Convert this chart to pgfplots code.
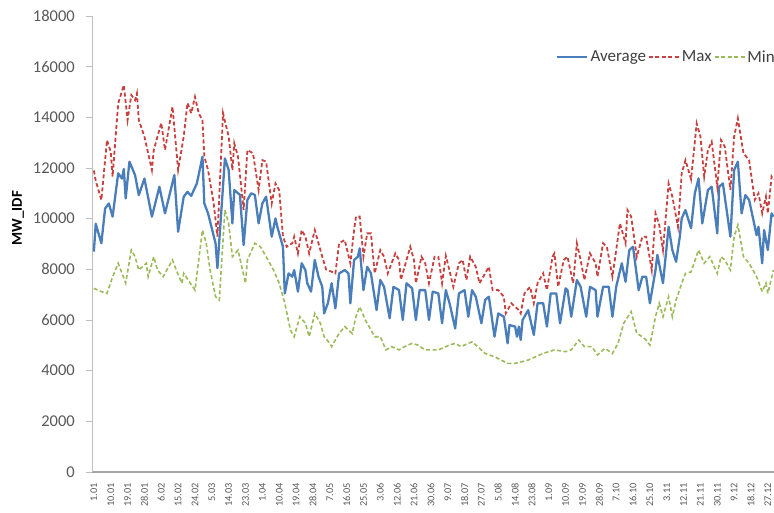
\documentclass[border=0pt]{standalone}
\usepackage{fontspec}
\setmainfont{Carlito}
\usepackage{pgfplots}
\pgfplotsset{compat=1.18}
\definecolor{avgblue}{HTML}{4A7EBB}
\definecolor{maxred}{HTML}{C8413F}
\definecolor{mingreen}{HTML}{9BBB59}
\definecolor{txt}{HTML}{595959}
\begin{document}
\begin{tikzpicture}
\begin{axis}[
  name=ax,
  scale only axis,
  width=682pt, height=456pt,
  xmin=-1, xmax=363.3,
  ymin=0, ymax=18000,
  axis lines*=left,
  x axis line style={draw=black!35, line width=1.6pt},
  y axis line style={draw=black!25, line width=0.6pt},
  tick align=outside,
  major tick length=6pt,
  xtick style={draw=none},
  ytick style={draw=black!25, line width=0.6pt},
  ytick={0,2000,...,18000},
  scaled y ticks=false,
  /pgf/number format/1000 sep={},
  /pgf/number format/assume math mode=true,
  yticklabel style={font=\fontsize{16.5}{18}\selectfont, color=txt, inner sep=0pt, anchor=east},
  yticklabel shift=11pt,
  xtick={0,9,...,360},
  xticklabels={1.01,10.01,19.01,28.01,6.02,15.02,24.02,5.03,14.03,23.03,1.04,10.04,19.04,28.04,7.05,16.05,25.05,3.06,12.06,21.06,30.06,9.07,18.07,27.07,5.08,14.08,23.08,1.09,10.09,19.09,28.09,7.10,16.10,25.10,3.11,12.11,21.11,30.11,9.12,18.12,27.12},
  xticklabel style={rotate=90, anchor=east, font=\fontsize{10.3}{12}\selectfont, color=txt, inner sep=0pt},
  xticklabel shift=5pt,
  ylabel={MW\_IDF},
  every axis y label/.style={at={(axis description cs:-0.1085,0.557)}, rotate=90, anchor=center, font=\fontsize{15}{17}\selectfont\bfseries, color=black},
  legend columns=3,
  legend style={at={(axis description cs:0.6804,0.910)}, anchor=west, draw=none, fill=none,
    inner xsep=0pt, inner ysep=0pt,
    nodes={inner xsep=2pt, inner ysep=0pt, text=black!75},
    font=\fontsize{17}{18}\selectfont},
  legend image code/.code={\draw[#1] (0pt,0pt) -- (30pt,0pt);},
]
\addplot[avgblue, line width=2.3pt, line join=round] coordinates {
(0,8700) (1,9800) (4,9030) (6,10400) (8,10600) (10,10080) (13,11790) (15,11580) (16,11960) (17,10800) (19,12250) (22,11720) (24,10930) (27,11580) (31,10080) (35,11260) (38,10210) (43,11720) (45,9485) (48,10870) (50,11060) (52,10900) (55,11390) (58,12445) (59,10600) (61,10210) (65,9030) (66,8050) (70,12380) (72,11920) (74,9815) (75,11130) (78,10940) (80,8960) (82,10740) (84,11000) (86,10940) (88,9815) (90,10600) (92,10870) (95,9290) (97,10010) (98,9680) (101,8890) (102,7050) (104,7840) (106,7710) (107,7970) (109,7120) (111,8240) (113,7970) (114,7450) (116,7120) (118,8370) (120,7710) (122,7310) (123,6260) (125,6660) (127,7450) (129,6460) (131,7840) (134,7970) (136,7840) (137,6660) (139,8370) (141,8500) (142,8830) (144,7180) (146,8100) (148,7840) (151,6390) (153,7580) (155,7310) (158,6070) (160,7310) (163,7180) (165,6000) (167,7450) (170,7250) (172,6000) (174,7180) (177,7180) (179,6000) (181,7120) (184,7050) (186,5870) (188,7180) (190,6660) (193,5670) (195,7050) (198,7180) (200,6130) (202,7180) (204,6920) (207,5870) (209,6790) (211,6920) (214,5340) (216,6260) (219,6130) (221,5080) (222,5800) (225,5740) (226,5340) (227,5740) (228,5210) (229,6000) (232,6390) (235,5410) (237,6660) (240,6660) (242,5740) (244,7050) (247,7050) (249,5870) (252,7250) (253,7180) (255,6130) (258,7580) (260,7310) (263,6130) (265,7310) (268,7180) (269,6130) (272,7310) (275,7310) (277,6130) (279,7310) (282,8240) (284,7510) (286,8760) (288,8890) (291,7180) (293,7710) (295,7710) (297,6660) (300,7970) (301,8570) (304,7450) (307,9680) (309,8760) (311,8300) (313,9300) (314,10010) (316,10340) (319,9620) (321,11000) (323,11590) (325,9815) (328,11130) (330,11260) (333,9420) (334,11260) (336,11390) (340,9290) (342,11920) (344,12250) (346,10210) (348,10930) (350,10740) (354,9350) (355,9680) (357,8240) (358,9550) (360,8760) (362,10210) (363,10080)
};
\addplot[maxred, line width=1.8pt, dash pattern=on 4pt off 2.5pt] coordinates {
(0,11900) (1,11500) (4,10740) (7,13100) (9,12640) (10,11660) (13,14550) (16,15270) (18,13890) (20,14880) (22,14680) (23,14950) (24,13890) (27,13240) (31,11920) (32,12710) (36,13780) (38,12710) (42,14420) (45,11920) (48,13240) (50,14570) (52,14160) (54,14810) (56,14160) (58,13890) (59,12450) (61,11920) (64,10600) (66,9290) (69,14160) (72,13240) (74,11920) (75,12970) (77,12450) (80,10340) (82,12710) (85,12580) (88,11130) (90,12310) (92,12250) (95,10600) (97,11390) (99,11130) (101,9290) (103,8890) (106,9030) (107,9290) (109,8630) (111,9550) (113,9290) (115,8630) (118,9550) (120,9030) (122,8500) (124,8000) (125,7970) (129,7840) (131,9030) (134,9160) (137,8240) (139,9550) (140,10080) (142,10080) (144,8500) (146,9420) (148,9420) (150,7840) (153,8760) (155,8500) (157,7840) (161,8630) (163,8370) (164,7580) (169,8890) (171,8370) (172,7450) (175,8500) (177,8240) (179,7450) (182,8500) (184,8500) (186,7450) (188,8530) (189,8240) (192,7310) (195,8240) (197,8370) (199,7580) (201,8500) (204,8100) (206,7450) (208,7710) (211,8100) (213,7180) (216,7180) (219,6920) (220,6260) (223,6660) (225,6520) (227,6390) (228,6260) (230,7050) (233,7310) (235,6660) (237,7450) (240,7840) (242,7180) (245,8500) (246,8630) (248,7310) (251,8370) (253,8500) (256,7450) (258,9030) (260,8370) (262,7580) (265,8630) (268,8240) (269,7710) (272,9030) (274,8890) (277,7710) (279,8760) (281,9815) (284,9030) (285,10340) (287,10080) (290,8500) (293,9290) (295,9290) (298,7970) (300,10210) (302,9750) (304,8760) (307,11390) (309,10870) (312,9680) (314,11790) (316,12310) (319,11560) (322,13760) (324,13240) (326,11660) (328,12710) (330,13040) (333,11260) (335,13100) (337,12840) (340,11130) (342,13240) (344,13960) (347,12580) (350,12310) (353,10740) (355,11000) (357,10210) (359,10870) (360,10210) (362,11660) (363,11530)
};
\addplot[mingreen, line width=1.6pt, dash pattern=on 4pt off 2.5pt] coordinates {
(0,7250) (4,7120) (7,7050) (10,7700) (13,8240) (17,7460) (20,8760) (22,8500) (24,7970) (28,8240) (29,7710) (32,8500) (34,7970) (37,7710) (42,8370) (44,7970) (47,7450) (48,7840) (54,7180) (58,9550) (60,9030) (62,8000) (65,6920) (67,6790) (70,10340) (72,9815) (74,8500) (77,8760) (81,7450) (82,8370) (86,9030) (89,8890) (92,8500) (96,7970) (99,7450) (102,6660) (105,5600) (107,5340) (110,6130) (113,5870) (115,5340) (118,6260) (121,5870) (123,5340) (126,5080) (127,4950) (131,5470) (134,5740) (138,5470) (140,6130) (142,6520) (145,6000) (147,5740) (150,5340) (153,5340) (156,4820) (159,4950) (163,4820) (166,4950) (170,5080) (173,5010) (177,4820) (180,4820) (184,4820) (188,4950) (190,5010) (193,5080) (196,4950) (202,5140) (205,4950) (209,4680) (214,4550) (221,4290) (225,4290) (229,4360) (232,4420) (236,4550) (240,4680) (246,4820) (252,4750) (255,4820) (259,5210) (262,4950) (266,4950) (269,4620) (273,4880) (277,4680) (280,5080) (283,5870) (287,6330) (290,5470) (293,5340) (295,5210) (297,5010) (300,6130) (302,6660) (304,6130) (307,6920) (309,6130) (311,6790) (314,7450) (316,7840) (319,7900) (323,8760) (326,8240) (329,8500) (333,7840) (335,8500) (337,8370) (340,7970) (342,9290) (344,9750) (347,8500) (350,8240) (354,7710) (357,7120) (359,7450) (360,7050) (363,7970)
};
\legend{Average,Max,Min}
\end{axis}
\pgfresetboundingbox
\path[use as bounding box] ([shift={(-92pt,-40pt)}]ax.south west) rectangle ([shift={(0pt,16pt)}]ax.north east);
\end{tikzpicture}
\end{document}
